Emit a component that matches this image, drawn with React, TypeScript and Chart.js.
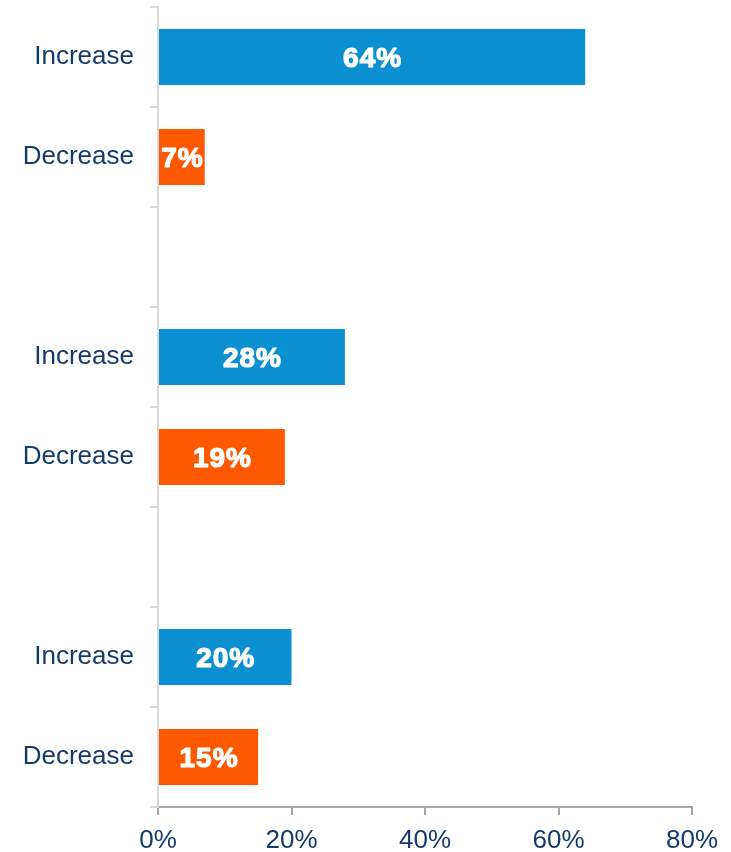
import React, { useEffect, useRef } from "react";
import { Chart, registerables } from "chart.js";

Chart.register(...registerables);

const categories = ["Increase", "Decrease", "", "Increase", "Decrease", "", "Increase", "Decrease"];
const values: (number | null)[] = [64, 7, null, 28, 19, null, 20, 15];
const kinds = ["inc", "dec", "", "inc", "dec", "", "inc", "dec"];
const xTicks = [0, 20, 40, 60, 80];

const BLUE = "#0a8fd1";
const ORANGE = "#fe5900";
const NAVY = "#133c6d";

const labelPlugin = {
  id: "barLabels",
  afterDatasetsDraw(chart: any) {
    const ctx = chart.ctx;
    const meta = chart.getDatasetMeta(0);
    ctx.save();
    ctx.fillStyle = "#ffffff";
    ctx.strokeStyle = "#ffffff";
    ctx.lineWidth = 1.2;
    ctx.lineJoin = "round";
    ctx.font = "bold 28px 'Liberation Sans', Arial, sans-serif";
    try {
      (ctx as any).letterSpacing = "1px";
    } catch (e) {}
    ctx.textAlign = "center";
    ctx.textBaseline = "middle";
    meta.data.forEach((el: any, i: number) => {
      const v = values[i];
      if (v == null) return;
      const cx = (el.x + el.base) / 2 + 0.5;
      ctx.fillText(v + "%", cx, el.y + 2);
      ctx.strokeText(v + "%", cx, el.y + 2);
    });
    ctx.restore();
  },
};

export default function App() {
  const ref = useRef<HTMLCanvasElement>(null);
  useEffect(() => {
    if (!ref.current) return;
    const chart = new Chart(ref.current, {
      type: "bar",
      data: {
        labels: categories,
        datasets: [
          {
            data: values,
            backgroundColor: kinds.map((k) => (k === "inc" ? BLUE : ORANGE)),
            categoryPercentage: 1,
            barPercentage: 0.56,
            borderWidth: 0,
          },
        ],
      },
      options: {
        indexAxis: "y",
        animation: false,
        responsive: false,
        layout: { padding: { top: 7, right: 39, left: 0, bottom: 0 } },
        plugins: { legend: { display: false }, tooltip: { enabled: false } },
        scales: {
          x: {
            min: 0,
            max: 80,
            afterBuildTicks: (scale: any) => {
              scale.ticks = xTicks.map((v) => ({ value: v }));
            },
            afterFit: (scale: any) => {
              scale.height = 45;
            },
            grid: {
              drawOnChartArea: false,
              drawTicks: true,
              tickLength: 8,
              color: "#a6a6a6",
              lineWidth: 2,
            },
            border: { color: "#a6a6a6", width: 2 },
            ticks: {
              padding: 10,
              color: NAVY,
              font: { family: "'Liberation Sans', Arial, sans-serif", size: 26 },
              callback: (v: any) => v + "%",
            },
          },
          y: {
            afterFit: (scale: any) => {
              scale.width = 158;
              scale.paddingTop = 0;
              scale.paddingBottom = 0;
            },
            grid: {
              offset: true,
              drawOnChartArea: false,
              drawTicks: true,
              tickLength: 8,
              color: "#d9d9d9",
              lineWidth: 2,
            },
            border: { color: "#d9d9d9", width: 2 },
            ticks: {
              padding: 16,
              color: NAVY,
              font: { family: "'Liberation Sans', Arial, sans-serif", size: 26 },
            },
          },
        },
      },
      plugins: [labelPlugin],
    });
    return () => chart.destroy();
  }, []);
  return (
    <canvas
      ref={ref}
      width={731}
      height={852}
      style={{ position: "absolute", left: 0, top: 0, display: "block", width: 731, height: 852 }}
    />
  );
}
